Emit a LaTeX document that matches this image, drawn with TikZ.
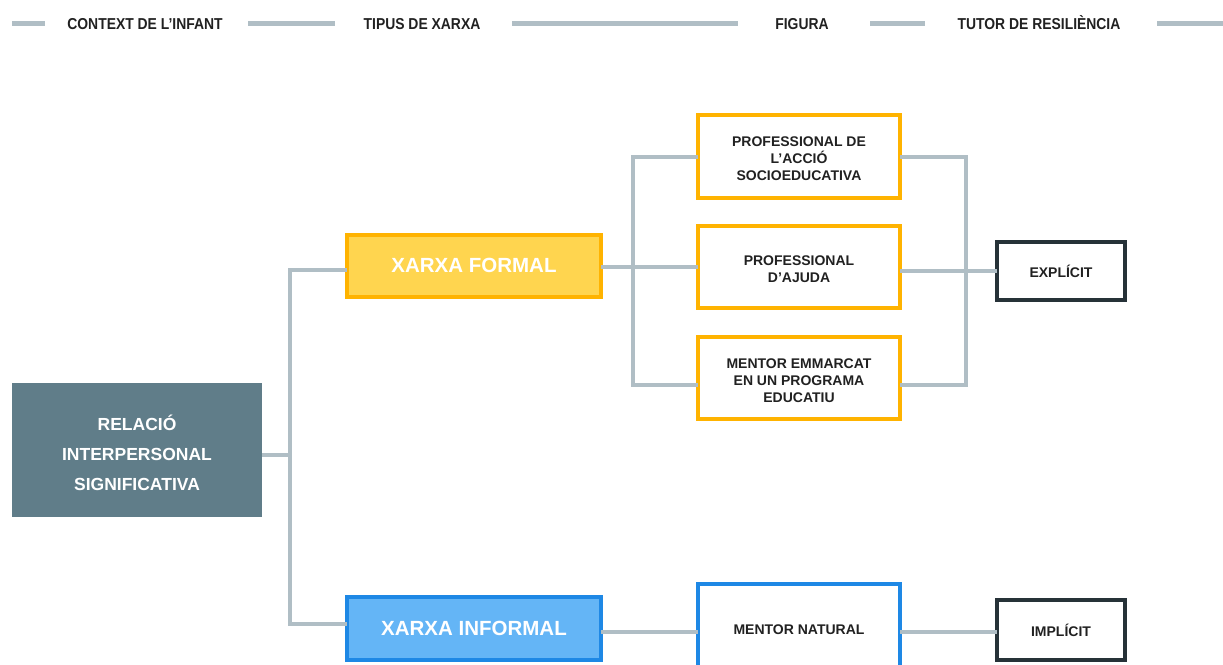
\documentclass[tikz,border=0pt]{standalone}
\usepackage{fontspec}
\setmainfont{Liberation Sans}
\newfontfamily\hdfont{Liberation Sans}[FakeStretch=0.88]
\definecolor{lineg}{HTML}{B0BEC5}
\definecolor{slate}{HTML}{607D89}
\definecolor{yfill}{HTML}{FFD54F}
\definecolor{ybord}{HTML}{FFB300}
\definecolor{bfill}{HTML}{64B5F6}
\definecolor{bbord}{HTML}{1E88E5}
\definecolor{dbord}{HTML}{263238}
\definecolor{txt}{HTML}{212121}
\tikzset{
  conn/.style={draw=lineg,line width=4pt},
  hline/.style={draw=lineg,line width=5pt},
  hdtext/.style={anchor=base,inner sep=0pt,text=txt,font=\hdfont\bfseries\fontsize{15.8}{18}\selectfont},
  boxbase/.style={rectangle,inner sep=0pt,outer sep=0pt,align=center},
  figbox/.style={boxbase,draw=ybord,fill=white,line width=4pt,minimum width=202pt,minimum height=82pt,text=txt,font=\bfseries\fontsize{14}{17}\selectfont},
  netbox/.style={boxbase,line width=4pt,minimum width=254pt,minimum height=62pt,text=white,font=\bfseries\fontsize{20.5}{24}\selectfont},
  tutbox/.style={boxbase,draw=dbord,fill=white,line width=4pt,minimum width=128pt,minimum height=58pt,text=txt,font=\bfseries\fontsize{14}{17}\selectfont},
}
\begin{document}
\begin{tikzpicture}[x=1pt,y=-1pt]
\useasboundingbox (0,0) rectangle (1223,664);
\clip (0,0) rectangle (1223,664);
% header
\node[hdtext] (h1) at (145,29) {CONTEXT DE L’INFANT};
\node[hdtext] (h2) at (422,29) {TIPUS DE XARXA};
\node[hdtext] (h3) at (802,29) {FIGURA};
\node[hdtext] (h4) at (1039,29) {TUTOR DE RESILIÈNCIA};
\coordinate (a0) at (12,23);  \coordinate (a1) at (45,23);
\coordinate (b0) at (248,23); \coordinate (b1) at (335,23);
\coordinate (c0) at (512,23); \coordinate (c1) at (738,23);
\coordinate (d0) at (870,23); \coordinate (d1) at (925,23);
\coordinate (e0) at (1157,23);\coordinate (e1) at (1223,23);
\draw[hline] (a0) -- (a1);
\draw[hline] (b0) -- (b1);
\draw[hline] (c0) -- (c1);
\draw[hline] (d0) -- (d1);
\draw[hline] (e0) -- (e1);
% nodes
\node[boxbase,fill=slate,minimum width=250pt,minimum height=134pt,text=white,font=\bfseries\fontsize{17.5}{30}\selectfont] (rel) at (137,450) {\rule{0pt}{21pt}RELACIÓ\\INTERPERSONAL\\SIGNIFICATIVA};
\node[netbox,draw=ybord,fill=yfill] (formal) at (474,265.5) {XARXA FORMAL};
\node[netbox,draw=bbord,fill=bfill,minimum height=63pt] (informal) at (474,628.5) {XARXA INFORMAL};
\node[figbox,minimum height=83pt] (p1) at (799,156.5) {\rule{0pt}{14.5pt}PROFESSIONAL DE\\L’ACCIÓ\\SOCIOEDUCATIVA};
\node[figbox] (p2) at (799,267) {\rule{0pt}{14.5pt}PROFESSIONAL\\D’AJUDA};
\node[figbox] (p3) at (799,378) {\rule{0pt}{16pt}MENTOR EMMARCAT\\EN UN PROGRAMA\\EDUCATIU};
\node[figbox,draw=bbord,minimum height=92pt] (mentor) at (799,630) {MENTOR NATURAL};
\node[tutbox] (expl) at (1061,271) {EXPLÍCIT};
\node[tutbox,minimum height=60pt] (impl) at (1061,630) {IMPLÍCIT};
% junctions
\coordinate (jA) at (290,455);
\coordinate (jB) at (633,267);
\coordinate (jC) at (966,271);
% connectors
\draw[conn] ([yshift=-5pt]rel.east) -- (jA);
\draw[conn] ([yshift=-4.5pt]formal.west) -| (jA) |- ([yshift=4.5pt]informal.west);
\draw[conn] ([yshift=-1.5pt]formal.east) -- (p2.west);
\draw[conn] (p1.west) -| (jB) |- ([yshift=-7pt]p3.west);
\draw[conn] (p1.east) -| (jC) |- ([yshift=-7pt]p3.east);
\draw[conn] ([yshift=-4pt]p2.east) -- (expl.west);
\draw[conn] ([yshift=-3.5pt]informal.east) -- ([yshift=-2pt]mentor.west);
\draw[conn] ([yshift=-2pt]mentor.east) -- ([yshift=-2pt]impl.west);
\end{tikzpicture}
\end{document}
